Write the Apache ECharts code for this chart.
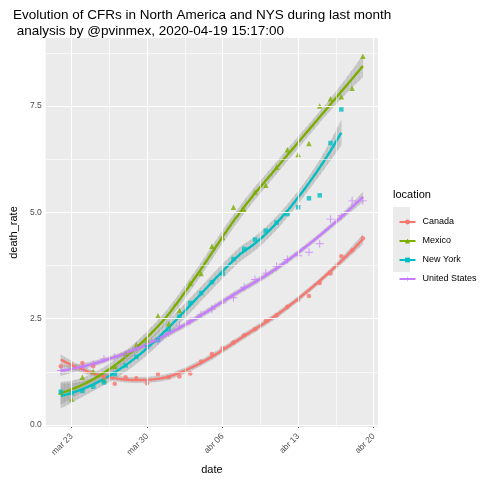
<!DOCTYPE html>
<html>
<head>
<meta charset="utf-8">
<script src="https://cdn.jsdelivr.net/npm/echarts@6/dist/echarts.min.js"></script>
<style>html,body{margin:0;padding:0;background:#fff}#chart{width:480px;height:480px}</style>
</head>
<body>
<div id="chart"></div>
<script>
// dias contados desde mar 23 (0); los datos empiezan en mar 22 (-1)
const xTicks = [0, 7, 14, 21, 28];
const xTickLabels = ["mar 23", "mar 30", "abr 06", "abr 13", "abr 20"];
const yTicks = [0, 2.5, 5, 7.5];

const canada = [1.38, 1.41, 1.46, 1.38, 1.12, 0.97, 1.12, 1.1, 0.98, 1.2, 1.12, 1.14, 1.21, 1.49, 1.67,
  1.81, 1.94, 2.11, 2.25, 2.45, 2.58, 2.78, 2.94, 3.03, 3.34, 3.56, 3.97, 4.1, 4.39];
const mexico = [0.77, 0.61, 1.12, 1.26, 1.05, 1.38, 1.68, 1.89, 2.0, 2.57, 2.38, 2.69, 3.33, 3.56, 4.2,
  4.41, 5.12, 5.05, 5.48, 5.64, 6.06, 6.47, 6.36, 6.62, 7.5, 7.67, 7.72, 7.92, 8.67];
const newYork = [0.78, 0.75, 0.8, 0.9, 1.0, 1.2, 1.4, 1.6, 1.83, 2.0, 2.25, 2.55, 2.87, 3.1, 3.36,
  3.56, 3.9, 4.14, 4.36, 4.57, 4.76, 4.96, 5.12, 5.33, 5.4, 6.63, 7.42];
const unitedStates = [1.28, 1.32, 1.36, 1.43, 1.55, 1.59, 1.66, 1.82, 1.82, 1.98, 2.17, 2.33, 2.45, 2.6, 2.72,
  2.87, 2.99, 3.24, 3.42, 3.57, 3.73, 3.89, 3.98, 4.06, 4.26, 4.84, 4.92, 5.27, 5.27];

const locations = [
  { name: "Canada", vals: canada, color: "#F8766D", symbol: "circle", size: 4.5 },
  { name: "Mexico", vals: mexico, color: "#7CAE00", symbol: "triangle", size: 5.5 },
  { name: "New York", vals: newYork, color: "#00BFC4", symbol: "rect", size: 4.5 },
  { name: "United States", vals: unitedStates, color: "#C77CFF", symbol: "path://M4 0h1v9h-1zM0 4h9v1h-9z", size: 8 }
];

// loess (grado 2, span 0.75) como geom_smooth
function solve3(A, b) {
  const M = A.map((r, i) => r.concat([b[i]]));
  for (let c = 0; c < 3; c++) {
    let p = c;
    for (let r = c + 1; r < 3; r++) if (Math.abs(M[r][c]) > Math.abs(M[p][c])) p = r;
    [M[c], M[p]] = [M[p], M[c]];
    for (let r = 0; r < 3; r++) {
      if (r === c) continue;
      const f = M[r][c] / M[c][c];
      for (let k = c; k < 4; k++) M[r][k] -= f * M[c][k];
    }
  }
  return [M[0][3] / M[0][0], M[1][3] / M[1][1], M[2][3] / M[2][2]];
}
function loessWeights(xs, x0) {
  const n = xs.length, q = Math.floor(0.75 * n);
  const d = xs.map(x => Math.abs(x - x0));
  const h = d.slice().sort((a, b) => a - b)[q - 1] || 1;
  const w = d.map(v => { const u = Math.min(v / h, 1); return Math.pow(1 - u * u * u, 3); });
  const A = [[0, 0, 0], [0, 0, 0], [0, 0, 0]];
  for (let i = 0; i < n; i++) {
    const r = [1, xs[i] - x0, (xs[i] - x0) ** 2];
    for (let a = 0; a < 3; a++) for (let b = 0; b < 3; b++) A[a][b] += w[i] * r[a] * r[b];
  }
  const s = solve3(A, [1, 0, 0]);
  return xs.map((x, i) => w[i] * (s[0] + s[1] * (x - x0) + s[2] * (x - x0) ** 2));
}
function smooth(ys) {
  const xs = ys.map((_, i) => i - 1);
  const fit = xs.map(x => loessWeights(xs, x).reduce((a, l, i) => a + l * ys[i], 0));
  const rss = ys.reduce((a, y, i) => a + (y - fit[i]) ** 2, 0);
  const sigma = Math.sqrt(rss / (ys.length - 5));
  const out = [];
  const x0 = xs[0], x1 = xs[xs.length - 1];
  for (let k = 0; k <= 80; k++) {
    const x = x0 + (x1 - x0) * k / 80;
    const l = loessWeights(xs, x);
    const yhat = l.reduce((a, v, i) => a + v * ys[i], 0);
    const se = sigma * Math.sqrt(l.reduce((a, v) => a + v * v, 0));
    out.push([x, yhat, yhat - 2.05 * se, yhat + 2.05 * se]);
  }
  return out;
}

const series = [];
series.push({
  type: "line", data: [], z: 1, silent: true,
  markLine: {
    silent: true, symbol: "none", label: { show: false }, animation: false,
    data: [
      ...[1.25, 3.75, 6.25, 8.75].map(v => ({ yAxis: v, lineStyle: { color: "#fff", width: 0.6, type: "solid" } })),
      ...[3.5, 10.5, 17.5, 24.5].map(v => ({ xAxis: v, lineStyle: { color: "#fff", width: 0.6, type: "solid" } })),
      ...yTicks.map(v => ({ yAxis: v, lineStyle: { color: "#fff", width: 1.1, type: "solid" } })),
      ...xTicks.map(v => ({ xAxis: v, lineStyle: { color: "#fff", width: 1.1, type: "solid" } }))
    ]
  }
});

locations.forEach(loc => {
  const sm = smooth(loc.vals);
  series.push({
    type: "custom", z: 2, silent: true, data: sm,
    renderItem: (params, api) => {
      const i = params.dataIndex;
      if (i >= sm.length - 1) return null;
      const a = sm[i], b = sm[i + 1];
      return {
        type: "polygon",
        shape: { points: [api.coord([a[0], a[2]]), api.coord([b[0], b[2]]), api.coord([b[0], b[3]]), api.coord([a[0], a[3]])] },
        style: { fill: "rgba(153,153,153,0.4)", stroke: "rgba(153,153,153,0.4)", lineWidth: 0.3 }
      };
    }
  });
  series.push({
    name: loc.name, type: "line", z: 3, data: sm.map(p => [p[0], p[1]]),
    showSymbol: false, symbol: loc.symbol, symbolSize: loc.size,
    lineStyle: { color: loc.color, width: 2.4 }, itemStyle: { color: loc.color }
  });
  series.push({
    name: loc.name, type: "scatter", z: 4, symbol: loc.symbol, symbolSize: loc.size,
    data: loc.vals.map((v, i) => [i - 1, v]), itemStyle: { color: loc.color }
  });
});

const chart = echarts.init(document.getElementById("chart"));
chart.setOption({
  animation: false,
  title: {
    text: "Evolution of CFRs in North America and NYS during last month\n analysis by @pvinmex, 2020-04-19 15:17:00",
    left: 8, top: 2,
    textStyle: { fontFamily: "Liberation Sans", fontSize: 13.5, fontWeight: "normal", color: "#000", lineHeight: 16 }
  },
  graphic: [
    { type: "text", left: 393, top: 189, style: { text: "location", font: "11px Liberation Sans", fill: "#000" } },
    ...[0, 1, 2, 3].map(i => ({ type: "rect", left: 393, top: 207 + 16 * i, shape: { width: 17, height: 17 }, style: { fill: "#EBEBEB" }, z: -1 }))
  ],
  legend: {
    orient: "vertical", left: 393.5, top: 212.5, itemGap: 10, itemWidth: 16, itemHeight: 6,
    data: locations.map(l => l.name),
    textStyle: { fontFamily: "Liberation Sans", fontSize: 9, color: "#000", padding: [0, 0, 0, 2] }
  },
  grid: { left: 36, right: 102, top: 38, bottom: 50, show: true, backgroundColor: "#EBEBEB", borderWidth: 0 },
  xAxis: {
    type: "value", min: -2.4, max: 28.4, name: "date", nameLocation: "middle", nameGap: 33,
    nameTextStyle: { fontFamily: "Liberation Sans", fontSize: 11, color: "#000" },
    axisLine: { show: false }, splitLine: { show: false },
    axisTick: { show: true, length: 3, customValues: xTicks, lineStyle: { color: "#333" } },
    axisLabel: {
      customValues: xTicks, rotate: 45, fontFamily: "Liberation Sans", fontSize: 8.5, color: "#4D4D4D",
      formatter: v => xTickLabels[xTicks.indexOf(v)] || ""
    }
  },
  yAxis: {
    type: "value", min: -0.05, max: 9.1, name: "death_rate", nameLocation: "middle", nameGap: 26,
    nameTextStyle: { fontFamily: "Liberation Sans", fontSize: 11, color: "#000" },
    axisLine: { show: false }, splitLine: { show: false },
    axisTick: { show: true, length: 3, customValues: yTicks, lineStyle: { color: "#333" } },
    axisLabel: { customValues: yTicks, margin: 4, fontFamily: "Liberation Sans", fontSize: 8.5, color: "#4D4D4D", formatter: v => v.toFixed(1) }
  },
  series: series
});
</script>
</body>
</html>
